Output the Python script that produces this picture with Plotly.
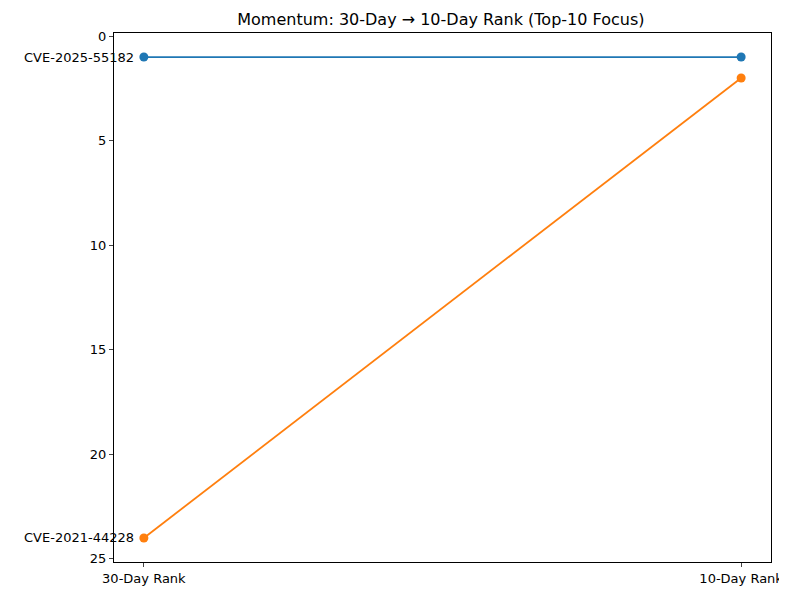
import plotly.graph_objects as go

periods = ["30-Day Rank", "10-Day Rank"]
cves = ["CVE-2025-55182", "CVE-2021-44228"]
ranks = [[1, 1], [24, 2]]
colors = ["#1f77b4", "#ff7f0e"]

fig = go.Figure()
for name, r, c in zip(cves, ranks, colors):
    fig.add_trace(go.Scatter(x=[0, 1], y=r, mode="lines+markers", name=name,
                             line=dict(color=c, width=1.8), marker=dict(size=9, color=c)))
    fig.add_annotation(x=0, y=r[0], text=name, xanchor="right", showarrow=False,
                       xshift=-8, font=dict(size=13, color="black"))

fig.update_layout(
    width=787, height=590, showlegend=False,
    plot_bgcolor="white", paper_bgcolor="white",
    margin=dict(l=106, r=18, t=25, b=30),
    font=dict(family="DejaVu Sans", size=13, color="black"),
    title=dict(text="Momentum: 30-Day → 10-Day Rank (Top-10 Focus)", x=0.55, y=0.99,
               xanchor="center", yanchor="top", font=dict(size=16)),
)
fig.update_xaxes(range=[-0.05, 1.05], tickvals=[0, 1], ticktext=periods,
                 showgrid=False, zeroline=False, showline=True, mirror=True,
                 linecolor="black", ticks="outside", ticklen=4)
fig.update_yaxes(range=[25.15, -0.15], tickvals=[0, 5, 10, 15, 20, 25],
                 showgrid=False, zeroline=False, showline=True, mirror=True,
                 linecolor="black", ticks="outside", ticklen=4)
fig.write_html("out.html")
